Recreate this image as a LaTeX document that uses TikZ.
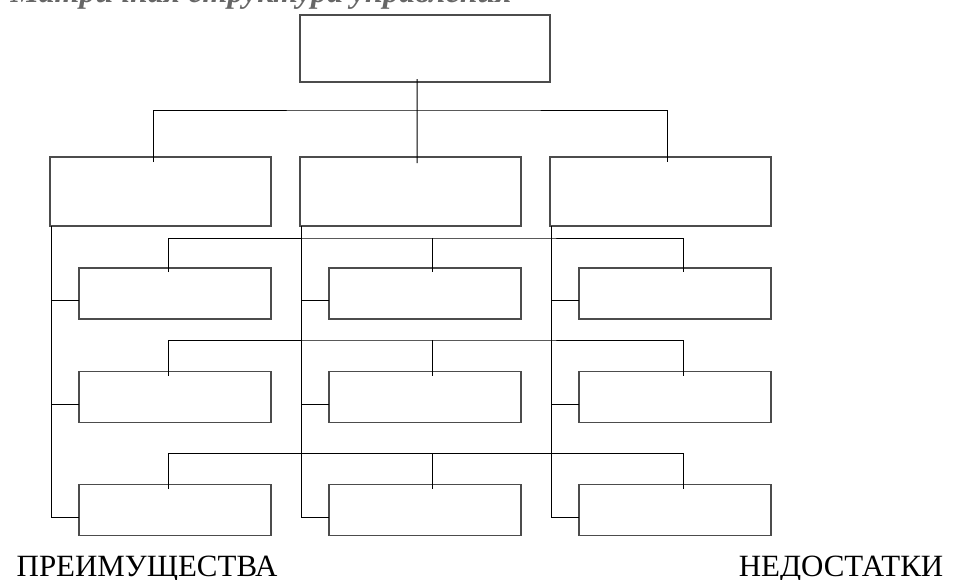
\documentclass[tikz,border=0pt]{standalone}
\usepackage{fontspec}
\setmainfont{Liberation Serif}
\begin{document}
\begin{tikzpicture}[x=0.75pt,y=-0.75pt,
  box/.style={draw=black!70,line width=1pt,inner sep=0pt,outer sep=0pt,minimum width=144pt,minimum height=38.25pt},
  wire/.style={line width=0.75pt},
  lbl/.style={font=\fontsize{23.2}{28}\selectfont}]
  \useasboundingbox (0,0) rectangle (955,579);
  \node [anchor=base west,font={\fontsize{24}{29}\selectfont\bfseries\itshape},text=black!60] (title) at (6,2.5) {Матричная структура управления};
  \node [box,minimum width=187.5pt,minimum height=50.25pt] (top) at (425,48.5) {};
  \foreach \c/\x in {1/160.5,2/410.5,3/660.5}
    \node [box,minimum width=165.75pt,minimum height=51.75pt] (d\c) at (\x,191.5) {};
  \foreach \r/\y in {1/293.5,2/397,3/510}
    \foreach \c/\x in {1/175,2/425,3/675}
      \node [box] (b\r\c) at (\x,\y) {};
  % top level
  \coordinate (h0) at (417,110);
  \draw[wire] ([xshift=-6pt,yshift=2.25pt]top.south) -- ([xshift=4.9pt,yshift=-4.5pt]d2.north);
  \draw[wire] ([xshift=-5.6pt,yshift=-3.75pt]d1.north) |- (h0) -| ([xshift=5.6pt,yshift=-3.75pt]d3.north);
  % rows
  \foreach \r/\y in {1/238,2/340,3/453} {
    \coordinate (h\r) at (432,\y);
    \draw[wire] ([xshift=-5.25pt,yshift=-3pt]b\r1.north) |- (h\r) -| ([xshift=6pt,yshift=-3pt]b\r3.north);
    \draw[wire] (h\r) -- ([xshift=5.25pt,yshift=-3pt]b\r2.north);
  }
  % columns
  \foreach \c in {1,2,3} {
    \draw[wire] ([xshift=0.75pt]d\c.south west) |- ([yshift=-5.25pt]b3\c.west);
    \foreach \r in {1,2}
      \draw[wire] ([yshift=-5.25pt]b\r\c.west) -- ++(-28,0);
  }
  \node [lbl,anchor=base west] (pros) at (12,576) {ПРЕИМУЩЕСТВА};
  \node [lbl,anchor=base east] (cons) at (948,576) {НЕДОСТАТКИ};
\end{tikzpicture}
\end{document}
